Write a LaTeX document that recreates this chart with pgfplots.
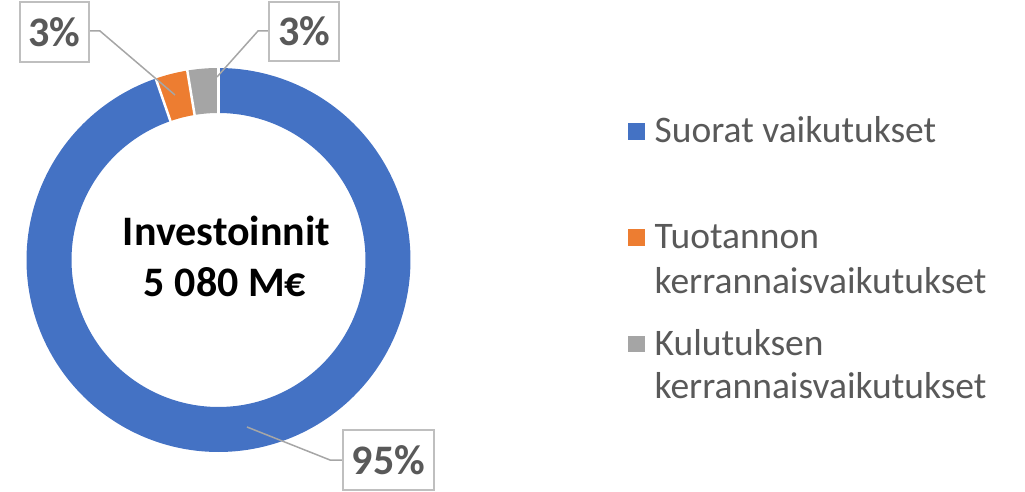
\documentclass[border=0pt]{standalone}
\usepackage{pgfplots}
\pgfplotsset{compat=1.18}
\usepackage{pgfplotstable}
\usepackage{fontspec}
\setmainfont{Carlito}
\definecolor{cBlue}{HTML}{4472C4}
\definecolor{cOrange}{HTML}{ED7D31}
\definecolor{cGray}{HTML}{A5A5A5}
\definecolor{txtGray}{HTML}{595959}
\definecolor{boxGray}{HTML}{BFBFBF}
\definecolor{leadGray}{HTML}{A6A6A6}

% shares of the 5 080 M EUR investment (percent)
\pgfplotstableread{
series share
Suorat 94.7
Tuotannon 2.7
Kulutuksen 2.6
}\shares
\pgfplotstablegetelem{0}{share}\of\shares\pgfmathsetmacro\aA{3.6*\pgfplotsretval}%
\pgfplotstablegetelem{1}{share}\of\shares\pgfmathsetmacro\aB{\aA+3.6*\pgfplotsretval}%
\def\aC{360}%
\def\cx{218.5}%
\def\cy{231}%
\def\rmid{169.5}%

\begin{document}
\begin{tikzpicture}
\begin{axis}[
  width=1025bp, height=491bp, scale only axis,
  xmin=0, xmax=1025, ymin=0, ymax=491,
  hide axis, clip=false,
]
\path (rel axis cs:0,0) -- (rel axis cs:1,1);
\addplot[color=cBlue, line width=45bp, domain=0:\aA, samples=200, variable=\t]
  ({\cx+\rmid*sin(\t)}, {\cy+\rmid*cos(\t)});
\addplot[color=cOrange, line width=45bp, domain=\aA:\aB, samples=20, variable=\t]
  ({\cx+\rmid*sin(\t)}, {\cy+\rmid*cos(\t)});
\addplot[color=cGray, line width=45bp, domain=\aB:\aC, samples=20, variable=\t]
  ({\cx+\rmid*sin(\t)}, {\cy+\rmid*cos(\t)});
% white separators
\addplot[white, line width=2.5bp, domain=140:200, samples=2] ({\cx+x*sin(0)}, {\cy+x*cos(0)});
\addplot[white, line width=2.5bp, domain=140:200, samples=2] ({\cx+x*sin(\aA)}, {\cy+x*cos(\aA)});
\addplot[white, line width=2.5bp, domain=140:200, samples=2] ({\cx+x*sin(\aB)}, {\cy+x*cos(\aB)});
% leader lines
\addplot[leadGray, line width=1.5bp] coordinates {(175,396) (100,460) (89,460)};
\addplot[leadGray, line width=1.5bp] coordinates {(217,414) (258,460) (269,460)};
\addplot[leadGray, line width=1.5bp] coordinates {(247,64) (330,31) (343,31)};
% legend keys
\addplot[cBlue, only marks, mark=square*, mark size=7.8bp, mark options={draw=cBlue, fill=cBlue, line width=0.4bp}] coordinates {(636.3,359.7)};
\addplot[cOrange, only marks, mark=square*, mark size=7.8bp, mark options={draw=cOrange, fill=cOrange, line width=0.4bp}] coordinates {(636.3,253.5)};
\addplot[cGray, only marks, mark=square*, mark size=7.8bp, mark options={draw=cGray, fill=cGray, line width=0.4bp}] coordinates {(636.3,147.3)};
% legend texts
\begin{scope}[every node/.style={anchor=base west, inner sep=0pt, text=txtGray, font={\fontsize{37.5bp}{45bp}\selectfont}}]
\node at (axis cs:654.5,348.3) {Suorat vaikutukset};
\node at (axis cs:654.5,242.7) {Tuotannon};
\node at (axis cs:654.5,197.7) {kerrannaisvaikutukset};
\node at (axis cs:654.5,136.0) {Kulutuksen};
\node at (axis cs:654.5,92.7) {kerrannaisvaikutukset};
\end{scope}
% data labels
\node[draw=boxGray, line width=1.5bp, fill=white, text=txtGray, font={\bfseries\fontsize{42bp}{50bp}\selectfont},
  minimum width=69bp, minimum height=60bp, inner sep=0pt] at (axis cs:54.5,459) {3\%};
\node[draw=boxGray, line width=1.5bp, fill=white, text=txtGray, font={\bfseries\fontsize{42bp}{50bp}\selectfont},
  minimum width=70bp, minimum height=59bp, inner sep=0pt] at (axis cs:304,459.5) {3\%};
\node[draw=boxGray, line width=1.5bp, fill=white, text=txtGray, font={\bfseries\fontsize{42bp}{50bp}\selectfont},
  minimum width=91bp, minimum height=60bp, inner sep=0pt] at (axis cs:388.4,31) {95\%};
% centre text
\node[anchor=base, inner sep=0pt, font={\bfseries\fontsize{42bp}{50bp}\selectfont}] at (axis cs:226.5,245) {Investoinnit};
\node[anchor=base, inner sep=0pt, font={\bfseries\fontsize{42bp}{50bp}\selectfont}] at (axis cs:225,194) {5 080 M€};
\end{axis}
\end{tikzpicture}
\end{document}
